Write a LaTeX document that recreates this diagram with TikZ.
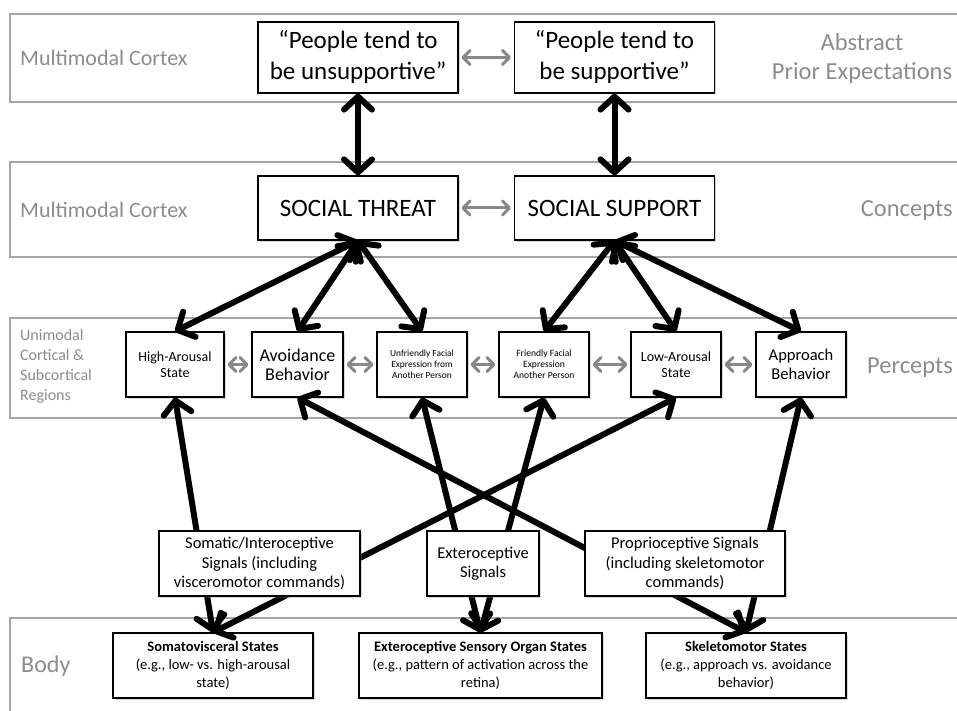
\documentclass[tikz,border=0pt]{standalone}
\usepackage{fontspec}
\setmainfont{Carlito}
\usetikzlibrary{arrows.meta, positioning, shadows}
\definecolor{bandgrey}{HTML}{A6A6A6}
\definecolor{labelgrey}{HTML}{8C8C8C}
\definecolor{linkgrey}{HTML}{888888}
\tikzset{
  boxnode/.style={
    rectangle, draw=black, line width=1.2pt, fill=white,
    inner sep=0pt, align=center,
    drop shadow={shadow xshift=1.5pt, shadow yshift=-1.5pt, opacity=0.3}
  },
  priornode/.style={boxnode, minimum width=200pt, minimum height=71pt,
    font=\fontsize{25}{31}\selectfont},
  conceptnode/.style={boxnode, minimum width=200pt, minimum height=64pt,
    font=\fontsize{25}{30}\selectfont},
  perceptnode/.style={boxnode, minimum width=90pt, minimum height=65pt},
  signalnode/.style={boxnode, minimum height=65pt,
    font=\fontsize{16.5}{19.5}\selectfont},
  bodynode/.style={boxnode, minimum height=65pt,
    font=\fontsize{14.5}{18}\selectfont},
  band/.style={draw=bandgrey, line width=1.2pt},
  leftlabel/.style={anchor=west, inner sep=0pt, text=labelgrey, align=left,
    font=\fontsize{22}{26}\selectfont},
  rightlabel/.style={text=labelgrey, align=center, inner sep=0pt,
    font=\fontsize{24.5}{29}\selectfont},
  arrow/.style={<->, >={Straight Barb[length=13pt, width=28pt, round]},
    line width=6pt, black},
  greyarrow/.style={<->, >={Straight Barb[length=7pt, width=14pt, round]},
    line width=3pt, draw=linkgrey, shorten >=3pt, shorten <=3pt}
}

\begin{document}
\begin{tikzpicture}[x=1pt, y=-1pt]
  \useasboundingbox (0,0) rectangle (957,711);

  % Bands
  \draw[band] (10,14) rectangle (975,102);
  \draw[band] (10,162) rectangle (975,257);
  \draw[band] (10,318) rectangle (975,418);
  \draw[band] (10,618) rectangle (975,730);

  % Band labels
  \node[leftlabel] (lab1) at (20,58) {Multimodal Cortex};
  \node[leftlabel] (lab2) at (20,210) {Multimodal Cortex};
  \node[leftlabel, font=\fontsize{16}{20}\selectfont] (lab3) at (20,366)
    {Unimodal\\Cortical \&\\Subcortical\\Regions};
  \node[leftlabel, font=\fontsize{24}{28}\selectfont] (lab4) at (21,666) {Body};
  \node[rightlabel] (rlab1) at (862,58) {Abstract\\Prior Expectations};
  \node[rightlabel, anchor=east] (rlab2) at (953,211) {Concepts};
  \node[rightlabel, anchor=east] (rlab3) at (953,368) {Percepts};

  % Prior expectations
  \node[priornode] (unsup) at (358,57.5) {“People tend to\\be unsupportive”};
  \node[priornode] (supp) at (614.5,57.5) {“People tend to\\be supportive”};

  % Concepts
  \node[conceptnode] (threat) at (358,208) {SOCIAL THREAT};
  \node[conceptnode] (support) at (614.5,208) {SOCIAL SUPPORT};

  % Percepts
  \node[perceptnode, minimum width=98pt, font=\fontsize{14}{16.5}\selectfont]
    (hiar) at (175,364.5) {High-Arousal\\State};
  \node[perceptnode, minimum width=91pt, font=\fontsize{18}{19}\selectfont]
    (avoid) at (297.5,364.5) {Avoidance\\Behavior};
  \node[perceptnode, font=\fontsize{9.4}{11}\selectfont]
    (unfr) at (422,364.5) {Unfriendly Facial\\Expression from\\Another Person};
  \node[perceptnode, font=\fontsize{9.6}{11}\selectfont]
    (frnd) at (544,364.5) {Friendly Facial\\Expression\\Another Person};
  \node[perceptnode, font=\fontsize{14}{16.5}\selectfont]
    (loar) at (676,364.5) {Low-Arousal\\State};
  \node[perceptnode, font=\fontsize{16.5}{19}\selectfont]
    (appr) at (801,364.5) {Approach\\Behavior};

  % Body states
  \node[bodynode, minimum width=200pt] (somst) at (213,665.5)
    {\textbf{Somatovisceral States}\\(e.g., low- vs. high-arousal\\state)};
  \node[bodynode, minimum width=243pt] (extst) at (480.5,665.5)
    {\textbf{Exteroceptive Sensory Organ States}\\(e.g., pattern of activation across the\\retina)};
  \node[bodynode, minimum width=200pt] (sklst) at (746,665.5)
    {\textbf{Skeletomotor States}\\(e.g., approach vs. avoidance\\behavior)};

  % Grey links within a level
  \draw[greyarrow] (unsup) -- (supp);
  \draw[greyarrow] (threat) -- (support);
  \draw[greyarrow] (hiar) -- (avoid);
  \draw[greyarrow] (avoid) -- (unfr);
  \draw[greyarrow] (unfr) -- (frnd);
  \draw[greyarrow] (frnd) -- (loar);
  \draw[greyarrow] (loar) -- (appr);

  % Priors to concepts
  \draw[arrow] (unsup) -- (threat);
  \draw[arrow] (supp) -- (support);

  % Concepts to percepts
  \foreach \p in {hiar, avoid, unfr}
    \draw[arrow] (threat.south) -- (\p.north);
  \foreach \p in {frnd, loar, appr}
    \draw[arrow] (support.south) -- (\p.north);

  % Body states to percepts
  \draw[arrow] (somst.north) -- (hiar.south);
  \draw[arrow] (somst.north) -- (loar.south);
  \draw[arrow] (extst.north) -- (unfr.south);
  \draw[arrow] (extst.north) -- (frnd.south);
  \draw[arrow] (sklst.north) -- (avoid.south);
  \draw[arrow] (sklst.north) -- (appr.south);

  % Signals (on top of the links)
  \node[signalnode, minimum width=201pt] (somsig) at (259.5,563.5)
    {Somatic/Interoceptive\\Signals (including\\visceromotor commands)};
  \node[signalnode, minimum width=112pt] (extsig) at (483,563.5)
    {Exteroceptive\\Signals};
  \node[signalnode, minimum width=200pt] (prosig) at (685,563.5)
    {Proprioceptive Signals\\(including skeletomotor\\commands)};

\end{tikzpicture}
\end{document}
